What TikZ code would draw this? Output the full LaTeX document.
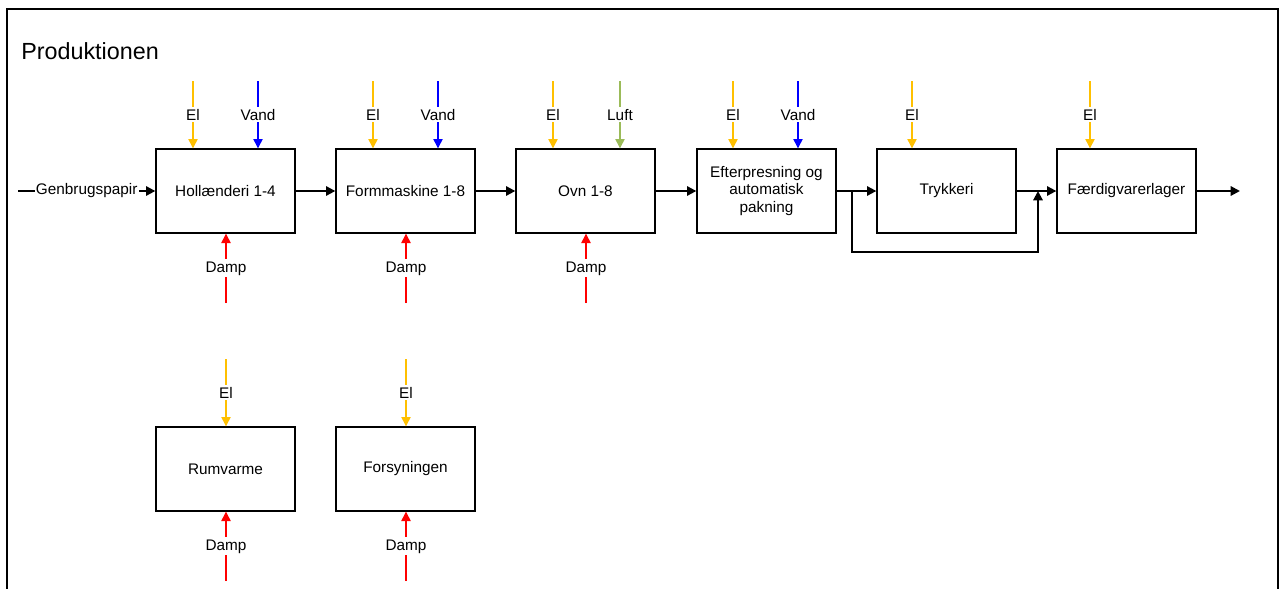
\documentclass[tikz,border=0pt]{standalone}
\usepackage{fontspec}
\setmainfont{Liberation Sans}
\usetikzlibrary{arrows.meta}
\definecolor{elcol}{HTML}{FFC000}
\definecolor{vandcol}{HTML}{0000FF}
\definecolor{dampcol}{HTML}{FF0000}
\definecolor{luftcol}{HTML}{9BBB59}
\begin{document}
\begin{tikzpicture}[x=0.75pt,y=-0.75pt,
  unit/.style={draw,line width=1pt,minimum width=104.25pt,minimum height=63pt,
    inner sep=2pt,font=\fontsize{11.5}{13}\selectfont,align=center},
  lbl/.style={fill=white,inner sep=1.5pt,font=\fontsize{11.5}{13}\selectfont,text=black},
  feed/.style={line width=0.8pt,-{Triangle[length=7pt,width=7pt]}},
  el/.style={feed,draw=elcol,fill=elcol},
  vand/.style={feed,draw=vandcol,fill=vandcol},
  damp/.style={feed,draw=dampcol,fill=dampcol},
  luft/.style={feed,draw=luftcol,fill=luftcol},
  flow/.style={line width=1.5pt,-{Triangle[length=7pt,width=7pt]}}]
\useasboundingbox (0,0) rectangle (1286,589);
\clip (0,0) rectangle (1286,589);
% frame
\draw[line width=2pt] (7,600) -- (7,9) -- (1278,9) -- (1278,600);
\node[anchor=base west,inner sep=0pt,font=\fontsize{17.5}{20}\selectfont] (title) at (21,59) {Produktionen};

% process units
\node[unit] (hol)  at (225.5,191) {Hollænderi 1-4};
\node[unit] (form) at (405.5,191) {Formmaskine 1-8};
\node[unit] (ovn)  at (585.5,191) {Ovn 1-8};
\node[unit] (eft)  at (766.5,191) {Efterpresning og\\automatisk\\pakning};
\node[unit] (tryk) at (946.5,191) {Trykkeri};
\node[unit] (fae)  at (1126.5,191) {Færdigvarerlager};
\node[unit] (rum)  at (225.5,469) {Rumvarme};
\node[unit] (fors) at (405.5,469) {Forsyningen};

% material flow
\coordinate (start) at (18,191);
\coordinate (finish) at (1240,191);
\coordinate (split) at (852,191);
\coordinate (join) at (1038,191);
\draw[flow] (start) -- (hol.west) node[midway,lbl,inner sep=1pt] {Genbrugspapir};
\draw[flow] (hol.east) -- (form.west);
\draw[flow] (form.east) -- (ovn.west);
\draw[flow] (ovn.east) -- (eft.west);
\draw[flow] (eft.east) -- (tryk.west);
\draw[flow] (tryk.east) -- (fae.west);
\draw[flow] (fae.east) -- (finish);
\draw[flow] (split) -- ++(0,61) -| (join);

% energy inputs, top
\coordinate (h1) at (193,81);   \coordinate (h2) at (258,81);
\coordinate (f1) at (373,81);   \coordinate (f2) at (438,81);
\coordinate (o1) at (553,81);   \coordinate (o2) at (620,81);
\coordinate (e1) at (733,81);   \coordinate (e2) at (798,81);
\coordinate (t1) at (912,81);
\coordinate (g1) at (1090,81);
\coordinate (r1) at (226,359);  \coordinate (s1) at (406,359);
\draw[el]   (h1) -- (h1 |- hol.north)  node[midway,lbl] {El};
\draw[vand] (h2) -- (h2 |- hol.north)  node[midway,lbl] {Vand};
\draw[el]   (f1) -- (f1 |- form.north) node[midway,lbl] {El};
\draw[vand] (f2) -- (f2 |- form.north) node[midway,lbl] {Vand};
\draw[el]   (o1) -- (o1 |- ovn.north)  node[midway,lbl] {El};
\draw[luft] (o2) -- (o2 |- ovn.north)  node[midway,lbl] {Luft};
\draw[el]   (e1) -- (e1 |- eft.north)  node[midway,lbl] {El};
\draw[vand] (e2) -- (e2 |- eft.north)  node[midway,lbl] {Vand};
\draw[el]   (t1) -- (t1 |- tryk.north) node[midway,lbl] {El};
\draw[el]   (g1) -- (g1 |- fae.north)  node[midway,lbl] {El};
\draw[el]   (r1) -- (r1 |- rum.north)  node[midway,lbl] {El};
\draw[el]   (s1) -- (s1 |- fors.north) node[midway,lbl] {El};

% steam inputs, bottom
\coordinate (hd) at (226,303);
\coordinate (fd) at (406,303);
\coordinate (od) at (586,303);
\coordinate (rd) at (226,581);
\coordinate (sd) at (406,581);
\draw[damp] (hd) -- (hd |- hol.south)  node[midway,lbl] {Damp};
\draw[damp] (fd) -- (fd |- form.south) node[midway,lbl] {Damp};
\draw[damp] (od) -- (od |- ovn.south)  node[midway,lbl] {Damp};
\draw[damp] (rd) -- (rd |- rum.south)  node[midway,lbl] {Damp};
\draw[damp] (sd) -- (sd |- fors.south) node[midway,lbl] {Damp};
\end{tikzpicture}
\end{document}
